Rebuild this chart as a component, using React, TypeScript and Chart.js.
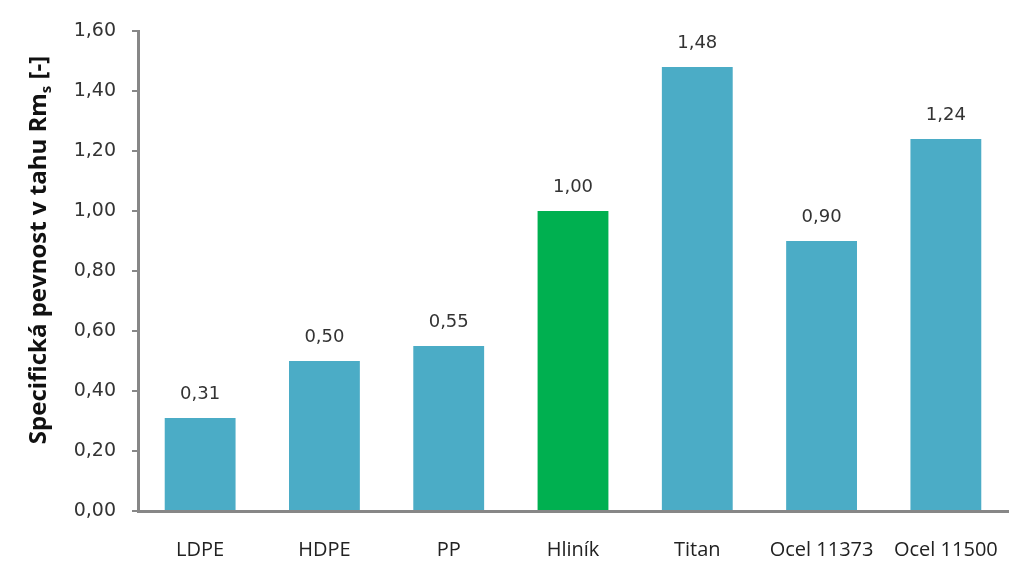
import { useEffect, useRef } from "react";
import { Chart, registerables } from "chart.js";

Chart.register(...registerables);

const materials = ["LDPE", "HDPE", "PP", "Hliník", "Titan", "Ocel 11373", "Ocel 11500"];
const strength = [0.31, 0.5, 0.55, 1.0, 1.48, 0.9, 1.24];
const barColors = ["#4BACC6", "#4BACC6", "#4BACC6", "#00B050", "#4BACC6", "#4BACC6", "#4BACC6"];
const yTitle = "Specifická pevnost v tahu Rm";

const fmt = (v: number) => v.toFixed(2).replace(".", ",");

// draws the value above every bar
const valueLabels = {
  id: "valueLabels",
  afterDatasetsDraw(chart: any) {
    const { ctx } = chart;
    const meta = chart.getDatasetMeta(0);
    ctx.save();
    ctx.font = "18px 'DejaVu Sans'";
    ctx.fillStyle = "#333";
    ctx.textAlign = "center";
    ctx.textBaseline = "middle";
    meta.data.forEach((bar: any, i: number) => {
      ctx.fillText(fmt(strength[i]), bar.x, bar.y - 24);
    });
    ctx.restore();
  },
};

// y title with a real subscript, placed a bit above the axis middle like the original
const axisTitle = {
  id: "axisTitle",
  afterDraw(chart: any) {
    const { ctx } = chart;
    const main = "bold 24px 'Open Sans'";
    const sub = "bold 15px 'Open Sans'";
    ctx.save();
    ctx.font = main;
    const w1 = ctx.measureText(yTitle).width;
    ctx.font = sub;
    const w2 = ctx.measureText("s").width;
    ctx.font = main;
    const w3 = ctx.measureText(" [-]").width;
    const total = w1 + w2 + w3;
    ctx.translate(46, 250);
    ctx.rotate(-Math.PI / 2);
    ctx.fillStyle = "#111";
    ctx.textBaseline = "alphabetic";
    ctx.textAlign = "left";
    let x = -total / 2;
    ctx.font = main;
    ctx.fillText(yTitle, x, 0);
    x += w1;
    ctx.font = sub;
    ctx.fillText("s", x, 5);
    x += w2;
    ctx.font = main;
    ctx.fillText(" [-]", x, 0);
    ctx.restore();
  },
};

const App = () => {
  const canvasRef = useRef<HTMLCanvasElement>(null);
  const chartRef = useRef<Chart | null>(null);

  useEffect(() => {
    document.body.style.margin = "0";
    if (!canvasRef.current) return;
    if (chartRef.current) chartRef.current.destroy();

    chartRef.current = new Chart(canvasRef.current, {
      type: "bar",
      data: {
        labels: materials,
        datasets: [
          {
            data: strength,
            backgroundColor: barColors,
            barPercentage: 0.57,
            categoryPercentage: 1,
          },
        ],
      },
      options: {
        animation: false,
        responsive: false,
        layout: { padding: { top: 31, right: 14, left: 0, bottom: 0 } },
        plugins: { legend: { display: false }, tooltip: { enabled: false } },
        scales: {
          x: {
            grid: { display: false },
            border: { color: "#878787", width: 3 },
            ticks: {
              color: "#222",
              font: { family: "Open Sans", size: 20 },
              padding: 19,
              maxRotation: 0,
            },
            afterFit: (s: any) => {
              s.height = 63;
            },
          },
          y: {
            min: 0,
            max: 1.6,
            ticks: {
              stepSize: 0.2,
              color: "#333",
              font: { family: "DejaVu Sans", size: 19 },
              padding: 16,
              callback: (v: any) => fmt(Number(v)),
            },
            grid: {
              drawOnChartArea: false,
              drawTicks: true,
              tickLength: 6,
              color: "#878787",
              lineWidth: 2,
            },
            border: { color: "#878787", width: 3 },
            afterFit: (s: any) => {
              s.width = 138;
            },
          },
        },
      },
      plugins: [valueLabels, axisTitle],
    });

    return () => {
      if (chartRef.current) {
        chartRef.current.destroy();
        chartRef.current = null;
      }
    };
  }, []);

  return (
    <div style={{ width: 1022, height: 574, background: "#fff" }}>
      <canvas ref={canvasRef} width={1022} height={574}></canvas>
    </div>
  );
};

export default App;
